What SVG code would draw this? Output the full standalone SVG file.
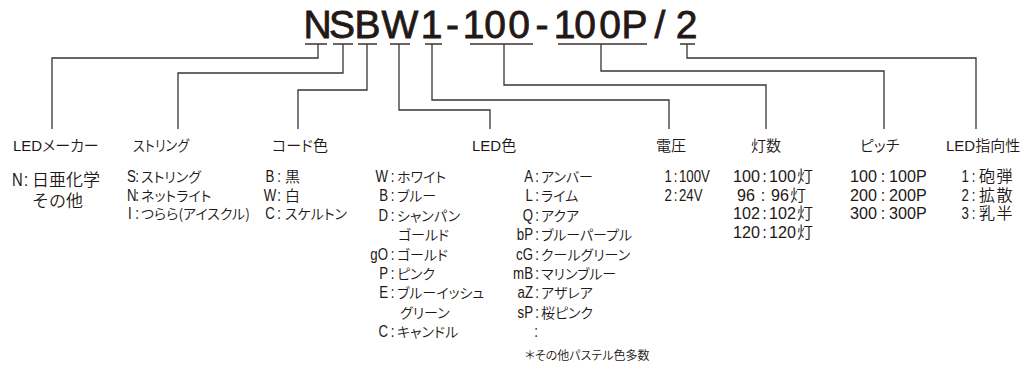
<svg xmlns="http://www.w3.org/2000/svg" width="1032" height="372" viewBox="0 0 1032 372">
<style>
text { fill: #231815; }
.title { font-family: "Liberation Sans", sans-serif; font-size: 39px; text-anchor: middle; stroke: #231815; stroke-width: 0.8; }
.lbl { font-family: "Liberation Sans", "Noto Sans CJK JP", sans-serif; font-size: 15px; font-weight: 350; font-feature-settings: "palt"; }
.L { font-family: "Liberation Sans", sans-serif; font-size: 17px; }
.J { font-family: "Noto Sans CJK JP", sans-serif; font-size: 14px; font-weight: 350; font-feature-settings: "palt"; }
.K { font-family: "Noto Sans CJK JP", sans-serif; font-size: 15px; font-weight: 350; }
.e { text-anchor: end; }
.m { text-anchor: middle; }
#connectors path { fill: none; stroke: #3b3330; stroke-width: 1.3; }
</style>
<rect width="1032" height="372" fill="#ffffff"/>
<g id="title">
<text class="title" x="317.5 342 367.5 400 431.5 452.5 473.5 495 519 542 564.5 585 610 634.5 660 686.5" y="38">NSBW1-100-100P/2</text>
</g>
<g id="connectors">
<path d="M305,44 H327 M318,44 V58 H52 V129"/>
<path d="M333,44 H353 M343,44 V73 H178 V129"/>
<path d="M358,44 H377 M367,44 V90 H298 V129"/>
<path d="M390,44 H410 M399,44 V110 H490 V129"/>
<path d="M425,44 H442 M432,44 V100 H669 V129"/>
<path d="M470,44 H533 M504,44 V85 H766 V129"/>
<path d="M558,44 H647 M601,44 V71 H884 V129"/>
<path d="M680,44 H695 M687,44 V58 H976 V129"/>
</g>
<g id="maker">
<text class="lbl" x="13" y="151">LEDメーカー</text>
<text class="L" transform="matrix(.78 0 0 1 12 186)" style="font-size:19px">N</text>
<text class="L m" transform="matrix(.78 0 0 1 26 186)" style="font-size:19px">:</text>
<text class="K" x="32" y="186" style="font-size:17px">日亜化学</text>
<text class="K" x="32" y="207" style="font-size:17px">その他</text>
</g>
<g id="string">
<text class="lbl" x="133" y="151" textLength="56" lengthAdjust="spacingAndGlyphs">ストリング</text>
<text class="L" transform="matrix(.78 0 0 1 127 182)">S</text>
<text class="L m" transform="matrix(.78 0 0 1 137 182)">:</text>
<text class="J" x="141" y="182">ストリング</text>
<text class="L" transform="matrix(.78 0 0 1 127 200.7)">N</text>
<text class="L m" transform="matrix(.78 0 0 1 137 200.7)">:</text>
<text class="J" x="141" y="200.7">ネットライト</text>
<text class="L" transform="matrix(.78 0 0 1 128 219.4)">I</text>
<text class="L m" transform="matrix(.78 0 0 1 137 219.4)">:</text>
<text class="J" x="141" y="219.4">つらら(アイスクル)</text>
</g>
<g id="cord">
<text class="lbl" x="272" y="151">コード色</text>
<text class="L m" transform="matrix(.78 0 0 1 270 182)">B</text>
<text class="L m" transform="matrix(.78 0 0 1 279 182)">:</text>
<text class="K" x="285" y="182">黒</text>
<text class="L m" transform="matrix(.78 0 0 1 270 200.7)">W</text>
<text class="L m" transform="matrix(.78 0 0 1 279 200.7)">:</text>
<text class="K" x="285" y="200.7">白</text>
<text class="L m" transform="matrix(.78 0 0 1 270 219.4)">C</text>
<text class="L m" transform="matrix(.78 0 0 1 279 219.4)">:</text>
<text class="J" x="285" y="219.4">スケルトン</text>
</g>
<g id="ledcolor">
<text class="lbl" x="472" y="151">LED色</text>
<text class="L e" transform="matrix(.78 0 0 1 388 182)">W</text>
<text class="L m" transform="matrix(.78 0 0 1 392.5 182)">:</text>
<text class="J" x="397" y="182">ホワイト</text>
<text class="L e" transform="matrix(.78 0 0 1 388 201.4)">B</text>
<text class="L m" transform="matrix(.78 0 0 1 392.5 201.4)">:</text>
<text class="J" x="397" y="201.4">ブルー</text>
<text class="L e" transform="matrix(.78 0 0 1 388 220.8)">D</text>
<text class="L m" transform="matrix(.78 0 0 1 392.5 220.8)">:</text>
<text class="J" x="397" y="220.8">シャンパン</text>
<text class="J" x="398" y="240.2">ゴールド</text>
<text class="L e" transform="matrix(.78 0 0 1 388 259.6)">gO</text>
<text class="L m" transform="matrix(.78 0 0 1 392.5 259.6)">:</text>
<text class="J" x="397" y="259.6">ゴールド</text>
<text class="L e" transform="matrix(.78 0 0 1 388 279)">P</text>
<text class="L m" transform="matrix(.78 0 0 1 392.5 279)">:</text>
<text class="J" x="397" y="279">ピンク</text>
<text class="L e" transform="matrix(.78 0 0 1 388 298.4)">E</text>
<text class="L m" transform="matrix(.78 0 0 1 392.5 298.4)">:</text>
<text class="J" x="397" y="298.4">ブルーイッシュ</text>
<text class="J" x="400" y="317.8">グリーン</text>
<text class="L e" transform="matrix(.78 0 0 1 388 337.2)">C</text>
<text class="L m" transform="matrix(.78 0 0 1 392.5 337.2)">:</text>
<text class="J" x="397" y="337.2">キャンドル</text>
<text class="L e" transform="matrix(.78 0 0 1 533 182)">A</text>
<text class="L m" transform="matrix(.78 0 0 1 537 182)">:</text>
<text class="J" x="541" y="182">アンバー</text>
<text class="L e" transform="matrix(.78 0 0 1 533 201.4)">L</text>
<text class="L m" transform="matrix(.78 0 0 1 537 201.4)">:</text>
<text class="J" x="541" y="201.4">ライム</text>
<text class="L e" transform="matrix(.78 0 0 1 533 220.8)">Q</text>
<text class="L m" transform="matrix(.78 0 0 1 537 220.8)">:</text>
<text class="J" x="541" y="220.8">アクア</text>
<text class="L e" transform="matrix(.78 0 0 1 533 240.2)">bP</text>
<text class="L m" transform="matrix(.78 0 0 1 537 240.2)">:</text>
<text class="J" x="541" y="240.2">ブルーパープル</text>
<text class="L e" transform="matrix(.78 0 0 1 533 259.6)">cG</text>
<text class="L m" transform="matrix(.78 0 0 1 537 259.6)">:</text>
<text class="J" x="541" y="259.6">クールグリーン</text>
<text class="L e" transform="matrix(.78 0 0 1 533 279)">mB</text>
<text class="L m" transform="matrix(.78 0 0 1 537 279)">:</text>
<text class="J" x="541" y="279">マリンブルー</text>
<text class="L e" transform="matrix(.78 0 0 1 533 298.4)">aZ</text>
<text class="L m" transform="matrix(.78 0 0 1 537 298.4)">:</text>
<text class="J" x="541" y="298.4">アザレア</text>
<text class="L e" transform="matrix(.78 0 0 1 533 317.8)">sP</text>
<text class="L m" transform="matrix(.78 0 0 1 537 317.8)">:</text>
<text class="J" x="541" y="317.8">桜ピンク</text>
<text class="L m" transform="matrix(.78 0 0 1 536 337.2)">:</text>
<text class="J" x="525" y="360" style="font-size:12px">＊その他パステル色多数</text>
</g>
<g id="voltage">
<text class="lbl" x="656" y="151">電圧</text>
<text class="L e" transform="matrix(.78 0 0 1 672 182)">1</text>
<text class="L m" transform="matrix(.78 0 0 1 675.5 182)">:</text>
<text class="L" transform="matrix(.78 0 0 1 679 182)">100V</text>
<text class="L e" transform="matrix(.78 0 0 1 672 200.7)">2</text>
<text class="L m" transform="matrix(.78 0 0 1 675.5 200.7)">:</text>
<text class="L" transform="matrix(.78 0 0 1 679 200.7)">24V</text>
</g>
<g id="count">
<text class="lbl" x="751" y="151">灯数</text>
<text class="L e" transform="matrix(.95 0 0 1 760 182)">100</text>
<text class="L m" transform="matrix(.95 0 0 1 764.5 182)">:</text>
<text class="L" transform="matrix(.95 0 0 1 769 182)">100</text>
<text class="K" x="797" y="182" style="font-size:16px">灯</text>
<text class="L e" transform="matrix(.95 0 0 1 755 200.7)">96</text>
<text class="L m" transform="matrix(.95 0 0 1 763 200.7)">:</text>
<text class="L" transform="matrix(.95 0 0 1 771 200.7)">96</text>
<text class="K" x="790" y="200.7" style="font-size:16px">灯</text>
<text class="L e" transform="matrix(.95 0 0 1 760 219.4)">102</text>
<text class="L m" transform="matrix(.95 0 0 1 764.5 219.4)">:</text>
<text class="L" transform="matrix(.95 0 0 1 769 219.4)">102</text>
<text class="K" x="797" y="219.4" style="font-size:16px">灯</text>
<text class="L e" transform="matrix(.95 0 0 1 760 238.1)">120</text>
<text class="L m" transform="matrix(.95 0 0 1 764.5 238.1)">:</text>
<text class="L" transform="matrix(.95 0 0 1 769 238.1)">120</text>
<text class="K" x="797" y="238.1" style="font-size:16px">灯</text>
</g>
<g id="pitch">
<text class="lbl" x="860" y="151">ピッチ</text>
<text class="L e" transform="matrix(.95 0 0 1 877 182)">100</text>
<text class="L m" transform="matrix(.95 0 0 1 883 182)">:</text>
<text class="L" transform="matrix(.95 0 0 1 889 182)">100P</text>
<text class="L e" transform="matrix(.95 0 0 1 877 200.7)">200</text>
<text class="L m" transform="matrix(.95 0 0 1 883 200.7)">:</text>
<text class="L" transform="matrix(.95 0 0 1 889 200.7)">200P</text>
<text class="L e" transform="matrix(.95 0 0 1 877 219.4)">300</text>
<text class="L m" transform="matrix(.95 0 0 1 883 219.4)">:</text>
<text class="L" transform="matrix(.95 0 0 1 889 219.4)">300P</text>
</g>
<g id="direction">
<text class="lbl" x="946" y="151">LED指向性</text>
<text class="L e" transform="matrix(.78 0 0 1 969 182)">1</text>
<text class="L m" transform="matrix(.78 0 0 1 973.5 182)">:</text>
<text class="K" x="979" y="182" style="font-size:16px;letter-spacing:1.5px">砲弾</text>
<text class="L e" transform="matrix(.78 0 0 1 969 200.7)">2</text>
<text class="L m" transform="matrix(.78 0 0 1 973.5 200.7)">:</text>
<text class="K" x="979" y="200.7" style="font-size:16px;letter-spacing:1.5px">拡散</text>
<text class="L e" transform="matrix(.78 0 0 1 969 219.4)">3</text>
<text class="L m" transform="matrix(.78 0 0 1 973.5 219.4)">:</text>
<text class="K" x="979" y="219.4" style="font-size:16px;letter-spacing:1.5px">乳半</text>
</g>
</svg>
